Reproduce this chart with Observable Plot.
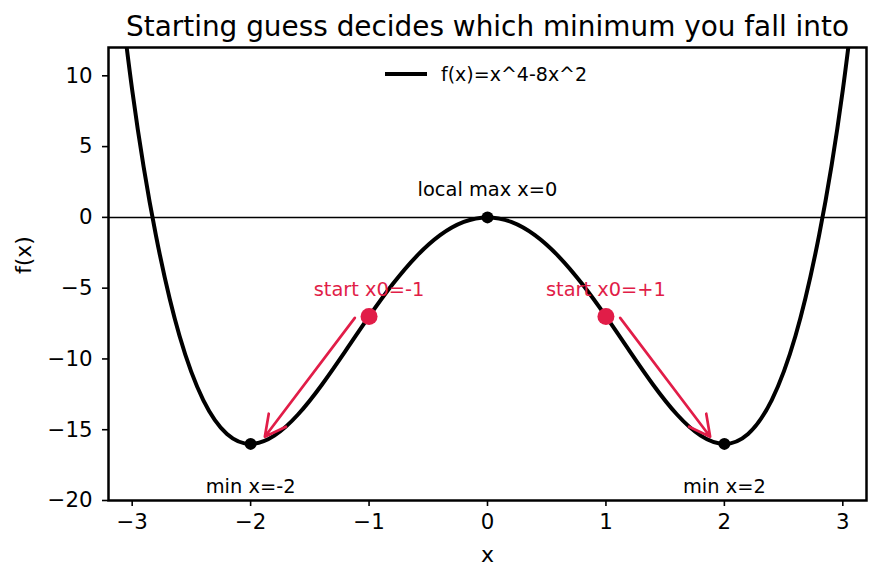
<!DOCTYPE html>
<html>
<head>
<meta charset="utf-8">
<script src="https://cdn.jsdelivr.net/npm/d3@7"></script>
<script src="https://cdn.jsdelivr.net/npm/@observablehq/plot@0.6"></script>
<style>
  html, body { margin: 0; padding: 0; background: #fff; }
  #chart { position: relative; width: 881px; height: 581px; font-family: "DejaVu Sans", sans-serif; }
  #legend { position: absolute; left: 385px; top: 62px; height: 24px; display: flex; align-items: center; font-size: 19px; color: #000; white-space: nowrap; }
  #legend svg { margin-right: 14px; }
</style>
</head>
<body>
<div id="chart"></div>
<script>
// f(x) = x^4 - 8x^2 sampled every 0.2 on [-3.2, 3.2]
const curveX = [-3.2, -3.0, -2.8, -2.6, -2.4, -2.2, -2.0, -1.8, -1.6, -1.4, -1.2, -1.0, -0.8, -0.6, -0.4, -0.2,
                0, 0.2, 0.4, 0.6, 0.8, 1.0, 1.2, 1.4, 1.6, 1.8, 2.0, 2.2, 2.4, 2.6, 2.8, 3.0, 3.2];
const curveY = [22.9376, 9, -1.2544, -8.3824, -12.9024, -15.2944, -16, -15.4224, -13.9264, -11.8384, -9.4464, -7,
                -4.7104, -2.7504, -1.2544, -0.3184, 0, -0.3184, -1.2544, -2.7504, -4.7104, -7, -9.4464, -11.8384,
                -13.9264, -15.4224, -16, -15.2944, -12.9024, -8.3824, -1.2544, 9, 22.9376];

// stationary points: two minima and the local maximum
const critX = [-2, 0, 2];
const critY = [-16, 0, -16];

// starting guesses
const startX = [-1, 1];
const startY = [-7, -7];
const startLabels = ["start x0=-1", "start x0=+1"];
const startLabelY = [-5.1, -5.1];

// descent arrows (tail -> head)
const arrowX1 = [-1.12, 1.12];
const arrowY1 = [-7.1, -7.1];
const arrowX2 = [-1.88, 1.88];
const arrowY2 = [-15.5, -15.5];

// annotations in black
const noteLabels = ["local max x=0", "min x=-2", "min x=2"];
const noteX = [0, -2, 2];
const noteY = [1.95, -19.05, -19.05];

const xTicks = [-3, -2, -1, 0, 1, 2, 3];
const yTicks = [-20, -15, -10, -5, 0, 5, 10];

const titleText = "Starting guess decides which minimum you fall into";
const legendText = "f(x)=x^4-8x^2";
const red = "#e11d48";

const curve = curveX.map((x, i) => ({x, y: curveY[i]}));
const crit = critX.map((x, i) => ({x, y: critY[i]}));
const starts = startX.map((x, i) => ({x, y: startY[i], label: startLabels[i], ly: startLabelY[i]}));
const arrows = arrowX1.map((x1, i) => ({x1, y1: arrowY1[i], x2: arrowX2[i], y2: arrowY2[i]}));
const notes = noteLabels.map((label, i) => ({label, x: noteX[i], y: noteY[i]}));

// integer tick labels with a true minus sign
const fmt = d => (d < 0 ? "\u2212" : "") + Math.abs(d);

const plot = Plot.plot({
  width: 881,
  height: 581,
  marginLeft: 108,
  marginRight: 15,
  marginTop: 47,
  marginBottom: 81,
  style: {fontFamily: "DejaVu Sans, sans-serif", fontSize: "21.3px", color: "#000", background: "#fff", overflow: "visible"},
  x: {domain: [-3.2, 3.2]},
  y: {domain: [-20, 12]},
  marks: [
    Plot.ruleY([0], {stroke: "#000", strokeWidth: 1.5}),
    Plot.line(curve, {x: "x", y: "y", curve: "natural", stroke: "#000", strokeWidth: 4, clip: true}),
    Plot.arrow(arrows, {x1: "x1", y1: "y1", x2: "x2", y2: "y2", stroke: red, strokeWidth: 2.7, headLength: 13, headAngle: 55}),
    Plot.dot(crit, {x: "x", y: "y", r: 6, fill: "#000"}),
    Plot.dot(starts, {x: "x", y: "y", r: 8.5, fill: red}),
    Plot.text(starts, {x: "x", y: "ly", text: "label", fill: red, fontSize: 19.4}),
    Plot.text(notes, {x: "x", y: "y", text: "label", fill: "#000", fontSize: 19.4}),
    Plot.frame({stroke: "#000", strokeWidth: 2.5}),
    Plot.axisX({ticks: xTicks, tickFormat: fmt, tickSize: 6, tickPadding: 7, fontSize: 21.3, label: null, strokeWidth: 1.6}),
    Plot.axisY({ticks: yTicks, tickFormat: fmt, tickSize: 6, tickPadding: 10, fontSize: 21.3, label: null, strokeWidth: 1.6}),
    Plot.text([titleText], {frameAnchor: "top", lineAnchor: "middle", dy: -20, fontSize: 27.9, fill: "#000"}),
    Plot.text(["x"], {frameAnchor: "bottom", lineAnchor: "middle", dy: 54, fontSize: 22, fill: "#000"}),
    Plot.text(["f(x)"], {frameAnchor: "left", lineAnchor: "middle", dx: -85, rotate: -90, fontSize: 22, fill: "#000"})
  ]
});

const chart = document.getElementById("chart");
chart.appendChild(plot);

// legend overlaid inside the plotting area
const legend = document.createElement("div");
legend.id = "legend";
legend.innerHTML = `<svg width="42" height="24"><line x1="0" x2="42" y1="12" y2="12" stroke="#000" stroke-width="3.8"/></svg><span>${legendText}</span>`;
chart.appendChild(legend);
</script>
</body>
</html>
